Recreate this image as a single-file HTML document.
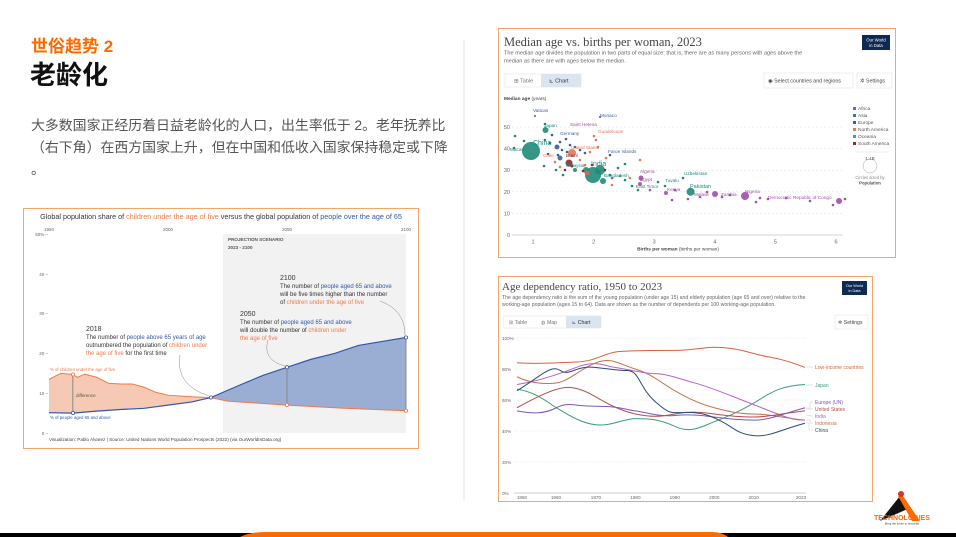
<!DOCTYPE html>
<html><head><meta charset="utf-8"><style>
html,body{margin:0;padding:0;background:#fff;}
body{width:956px;height:537px;position:relative;overflow:hidden;font-family:"Liberation Sans","Noto Sans CJK SC",sans-serif;}
.abs{position:absolute;}
</style></head><body>
<div class="abs" style="left:31px;top:32px;font-size:17px;font-weight:bold;color:#ff6a00;font-family:'Liberation Sans','Noto Sans CJK SC',sans-serif;">世俗趋势 2</div>
<div class="abs" style="left:30px;top:55px;font-size:26px;font-weight:bold;color:#111;font-family:'Liberation Sans','Noto Sans CJK SC',sans-serif;">老龄化</div>
<div class="abs" style="left:31px;top:114px;width:430px;font-size:13.9px;line-height:22px;color:#555;font-family:'Liberation Sans','Noto Sans CJK SC',sans-serif;">大多数国家正经历着日益老龄化的人口，出生率低于 2。老年抚养比（右下角）在西方国家上升，但在中国和低收入国家保持稳定或下降<br>。</div>
<svg class="abs" style="left:0;top:0" width="956" height="537" viewBox="0 0 956 537" font-family="Liberation Sans, sans-serif">
<line x1="464" y1="40" x2="464" y2="500" stroke="#e6e6e6" stroke-width="1"/>
<!-- bottom bar -->
<rect x="0" y="533" width="956" height="4" fill="#000"/>
<path d="M240 537 Q250 532 265 532 L712 532 Q722 532 728 537 Z" fill="#ff6a00"/>
<!-- logo -->
<polygon points="880,521 900,496 910,508" fill="#111"/>
<polygon points="898,496 903,496 920,521 912,521" fill="#ff6a00"/>
<circle cx="901" cy="494" r="3" fill="#e03020"/>
<text x="902" y="520" font-size="7" font-weight="bold" fill="#ff6a00" text-anchor="middle">TECHNOLOGIES</text>
<text x="902" y="524.5" font-size="2.8" fill="#333" text-anchor="middle">Bring the future to humanity</text>

<!-- LEFT CHART -->
<rect x="23.5" y="208.5" width="395" height="240" fill="#fff" stroke="#f5a56a" stroke-width="1"/>
<text x="221" y="219" font-size="7.2" fill="#333" text-anchor="middle">Global population share of <tspan fill="#f07a4a">children under the age of five</tspan> versus the global population of <tspan fill="#3557a8">people over the age of 65</tspan></text>
<rect x="223" y="234" width="183" height="199" fill="#f2f2f2"/>
<g font-size="4.5" fill="#666">
<text x="49" y="231" text-anchor="middle">1950</text><text x="168" y="231" text-anchor="middle">2000</text><text x="287" y="231" text-anchor="middle">2050</text><text x="406" y="231" text-anchor="middle">2100</text>
<text x="48" y="236" text-anchor="end">50% –</text><text x="48" y="276" text-anchor="end">40 –</text><text x="48" y="315" text-anchor="end">30 –</text><text x="48" y="355" text-anchor="end">20 –</text><text x="48" y="395" text-anchor="end">10 –</text><text x="48" y="435" text-anchor="end">0 –</text>
</g>
<text x="228" y="241" font-size="4.6" font-weight="bold" fill="#555">PROJECTION SCENARIO</text>
<text x="228" y="249" font-size="4.6" font-weight="bold" fill="#555">2023 - 2100</text>
<g transform="translate(49,433) scale(2.38,-3.98) translate(-1950,0)">
<path d="M1950,13.5 L1955,15 L1960,14.7 L1962,14 L1965,14.8 L1970,14 L1975,12.5 L1980,12.3 L1985,12.3 L1990,11.5 L1995,10.2 L2000,9.5 L2010,9.1 L2018,8.9 L2010,7.8 L2000,7 L1990,6.2 L1980,5.9 L1970,5.5 L1960,5 L1950,5.1 Z" fill="#f6c9b5"/>
<path d="M2018,8.9 L2030,12 L2040,14.5 L2050,16.5 L2060,18.5 L2070,20 L2080,22 L2090,23 L2100,24 L2100,5.6 L2075,6.2 L2050,7 L2025,8 Z" fill="#9aaed4"/>
<path d="M1950,13.5 L1955,15 L1960,14.7 L1962,14 L1965,14.8 L1970,14 L1975,12.5 L1980,12.3 L1985,12.3 L1990,11.5 L1995,10.2 L2000,9.5 L2010,9.1 L2018,8.9 L2025,8 L2050,7 L2075,6.2 L2100,5.6" fill="none" stroke="#f07a4a" stroke-width="1" vector-effect="non-scaling-stroke"/>
<path d="M1950,5.1 L1960,5 L1970,5.5 L1980,5.9 L1990,6.2 L2000,7 L2010,7.8 L2018,8.9 L2030,12 L2040,14.5 L2050,16.5 L2060,18.5 L2070,20 L2080,22 L2090,23 L2100,24" fill="none" stroke="#3557a8" stroke-width="1.2" vector-effect="non-scaling-stroke"/>
<path d="M1960,14.7 L1960,5 M2050,16.5 L2050,7 M2100,24 L2100,5.6" stroke="#888" stroke-width="1" vector-effect="non-scaling-stroke"/>
</g>
<g fill="#fff" stroke-width="0.8">
<circle cx="73" cy="374.5" r="1.6" stroke="#f07a4a"/><circle cx="73" cy="413" r="1.6" stroke="#3557a8"/>
<circle cx="211" cy="397.5" r="1.6" stroke="#3557a8"/><circle cx="287" cy="367.3" r="1.6" stroke="#3557a8"/>
<circle cx="287" cy="405" r="1.6" stroke="#f07a4a"/><circle cx="406" cy="337.5" r="1.6" stroke="#3557a8"/><circle cx="406" cy="410.7" r="1.6" stroke="#f07a4a"/>
</g>
<text x="76" y="397" font-size="4.5" fill="#555">difference</text>
<text x="50" y="371" font-size="4.3" fill="#f07a4a">% of children under the age of five</text>
<text x="50" y="419" font-size="4.3" fill="#3557a8">% of people aged 65 and above</text>
<path d="M180 355 Q175 385 209 396" fill="none" stroke="#888" stroke-width="0.5"/>
<path d="M268 340 Q262 360 285 366" fill="none" stroke="#888" stroke-width="0.5"/>
<path d="M380 301 Q405 310 405 335" fill="none" stroke="#888" stroke-width="0.5"/>
<g font-size="6" fill="#333">
<text x="86" y="331" font-size="7">2018</text>
<text x="86" y="339">The number of <tspan fill="#3557a8">people above 65 years of age</tspan></text>
<text x="86" y="347">outnumbered the population of <tspan fill="#f07a4a">children under</tspan></text>
<text x="86" y="355"><tspan fill="#f07a4a">the age of five</tspan> for the first time</text>
<text x="240" y="316" font-size="7">2050</text>
<text x="240" y="324">The number of <tspan fill="#3557a8">people aged 65 and above</tspan></text>
<text x="240" y="332">will double the number of <tspan fill="#f07a4a">children under</tspan></text>
<text x="240" y="340" fill="#f07a4a">the age of five</text>
<text x="280" y="280" font-size="7">2100</text>
<text x="280" y="288">The number of <tspan fill="#3557a8">people aged 65 and above</tspan></text>
<text x="280" y="296">will be five times higher than the number</text>
<text x="280" y="304">of <tspan fill="#f07a4a">children under the age of five</tspan></text>
</g>
<text x="49" y="441" font-size="4.6" fill="#444">Visualization: Pablo Alvarez | Source: United Nations World Population Prospects (2022) (via OurWorldInData.org)</text>

<!-- SCATTER -->
<rect x="498.5" y="28.5" width="397" height="229" fill="#fff" stroke="#f5a56a" stroke-width="1"/>
<text x="504" y="46" font-size="12.5" font-family="Liberation Serif, serif" fill="#444">Median age vs. births per woman, 2023</text>
<text x="504" y="54.5" font-size="5.6" fill="#666">The median age divides the population in two parts of equal size: that is, there are as many persons with ages above the</text>
<text x="504" y="62.5" font-size="5.6" fill="#666">median as there are with ages below the median.</text>
<rect x="862" y="35" width="28" height="15" fill="#0f2a52"/>
<text x="876" y="41.5" font-size="4.3" fill="#fff" text-anchor="middle">Our World</text><text x="876" y="47" font-size="4.3" fill="#fff" text-anchor="middle">in Data</text>
<rect x="505" y="74" width="76" height="13" fill="#fff" stroke="#e4e4e4" stroke-width="0.6"/>
<rect x="541" y="74" width="40" height="13" fill="#dbe5f0"/>
<text x="514" y="82.5" font-size="5.5" fill="#777">⊞ Table</text><text x="549" y="82.5" font-size="5.5" fill="#333">⊾ Chart</text>
<rect x="764" y="73" width="89" height="15" fill="#fff" stroke="#e4e4e4" stroke-width="0.6"/>
<text x="768" y="82.5" font-size="5.3" fill="#444">◉ Select countries and regions</text>
<rect x="857" y="73" width="35" height="15" fill="#fff" stroke="#e4e4e4" stroke-width="0.6"/>
<text x="860" y="82.5" font-size="5.3" fill="#444">✲ Settings</text>
<text x="504" y="100" font-size="4.8" fill="#444"><tspan font-weight="bold">Median age</tspan> (years)</text>
<g stroke="#ddd" stroke-width="0.5" stroke-dasharray="2,2">
<line x1="512" y1="127" x2="843" y2="127"/><line x1="512" y1="148.6" x2="843" y2="148.6"/><line x1="512" y1="170.2" x2="843" y2="170.2"/><line x1="512" y1="191.8" x2="843" y2="191.8"/><line x1="512" y1="213.4" x2="843" y2="213.4"/>
</g>
<line x1="512" y1="235" x2="843" y2="235" stroke="#aaa" stroke-width="0.5"/>
<g font-size="5.5" fill="#666" text-anchor="end">
<text x="510" y="237">0</text><text x="510" y="215.4">10</text><text x="510" y="193.8">20</text><text x="510" y="172.2">30</text><text x="510" y="150.6">40</text><text x="510" y="129">50</text>
</g>
<g font-size="5.5" fill="#666" text-anchor="middle">
<text x="533" y="243.5">1</text><text x="593.6" y="243.5">2</text><text x="654.2" y="243.5">3</text><text x="714.8" y="243.5">4</text><text x="775.4" y="243.5">5</text><text x="836" y="243.5">6</text>
</g>
<text x="678" y="250.5" font-size="4.8" fill="#444" text-anchor="middle"><tspan font-weight="bold">Births per woman</tspan> (births per woman)</text>
<g fill-opacity="0.9">
<circle cx="531" cy="151" r="9" fill="#1f8a7a"/>
<circle cx="593" cy="175" r="8" fill="#1f8a7a"/>
<circle cx="600" cy="170" r="5" fill="#1f8a7a"/>
<circle cx="586" cy="170" r="3" fill="#1f8a7a"/>
<circle cx="545.5" cy="130" r="3" fill="#1f8a7a"/>
<circle cx="690.6" cy="191.8" r="4" fill="#1f8a7a"/>
<circle cx="603" cy="181" r="3" fill="#1f8a7a"/>
<circle cx="745" cy="196" r="4" fill="#a04fa8"/>
<circle cx="715" cy="194" r="3" fill="#a04fa8"/>
<circle cx="839" cy="201" r="3" fill="#a04fa8"/>
<circle cx="641" cy="178" r="2.5" fill="#a04fa8"/>
<circle cx="640" cy="184" r="2" fill="#a04fa8"/>
<circle cx="666" cy="193" r="2" fill="#a04fa8"/>
<circle cx="572" cy="153" r="4" fill="#e07a5a"/>
<circle cx="569" cy="163" r="3.5" fill="#8a2a33"/>
<circle cx="557" cy="147" r="2.5" fill="#3f5f9a"/>
<circle cx="560" cy="158" r="2.5" fill="#3f5f9a"/>
<circle cx="587" cy="173" r="2.5" fill="#d9684f"/>
<circle cx="575" cy="170" r="2" fill="#1f8a7a"/>
</g>
<g fill="#a04fa8">
<circle cx="700" cy="197" r="1.3"/><circle cx="707" cy="192" r="1.3"/><circle cx="722" cy="197" r="1.3"/><circle cx="730" cy="195" r="1.3"/><circle cx="760" cy="198" r="1.3"/><circle cx="768" cy="199" r="1.3"/><circle cx="786" cy="198" r="1.3"/><circle cx="810" cy="201" r="1.3"/><circle cx="833" cy="205" r="1.3"/><circle cx="845" cy="199" r="1.3"/><circle cx="688" cy="199" r="1.3"/><circle cx="675" cy="190" r="1.3"/><circle cx="650" cy="190" r="1.3"/><circle cx="612" cy="178" r="1.3"/><circle cx="756" cy="202" r="1.3"/><circle cx="672" cy="200" r="1.3"/>
</g>
<g fill="#1f8a7a">
<circle cx="515" cy="136" r="1.3"/><circle cx="524" cy="141" r="1.3"/><circle cx="514" cy="148" r="1.3"/><circle cx="545" cy="140" r="1.3"/><circle cx="544" cy="166" r="1.3"/><circle cx="556" cy="170" r="1.3"/><circle cx="563" cy="175" r="1.3"/><circle cx="610" cy="175" r="1.3"/><circle cx="625" cy="180" r="1.3"/><circle cx="632" cy="186" r="1.3"/><circle cx="638" cy="190" r="1.3"/><circle cx="658" cy="182" r="1.3"/><circle cx="665" cy="186" r="1.3"/><circle cx="683" cy="178" r="1.3"/><circle cx="618" cy="168" r="1.3"/><circle cx="625" cy="164" r="1.3"/><circle cx="545" cy="124" r="1.3"/>
</g>
<g fill="#3f5f9a">
<circle cx="535" cy="116" r="1"/><circle cx="600" cy="117" r="1"/><circle cx="552" cy="135" r="1.3"/><circle cx="560" cy="142" r="1.3"/><circle cx="566" cy="139" r="1.3"/><circle cx="570" cy="145" r="1.3"/><circle cx="575" cy="147" r="1.3"/><circle cx="580" cy="150" r="1.3"/><circle cx="562" cy="150" r="1.3"/><circle cx="567" cy="152" r="1.3"/><circle cx="585" cy="153" r="1.3"/><circle cx="550" cy="143" r="1.3"/><circle cx="610" cy="155" r="1.3"/><circle cx="548" cy="154" r="1.3"/><circle cx="558" cy="155" r="1.3"/>
</g>
<g fill="#e07a5a">
<circle cx="594" cy="136" r="1.3"/><circle cx="596" cy="140" r="1.3"/><circle cx="598" cy="147" r="1.3"/><circle cx="590" cy="152" r="1.3"/><circle cx="580" cy="160" r="1.3"/><circle cx="585" cy="165" r="1.3"/><circle cx="606" cy="158" r="1.3"/><circle cx="620" cy="176" r="1.3"/><circle cx="630" cy="178" r="1.3"/><circle cx="612" cy="185" r="1.3"/><circle cx="640" cy="160" r="1.3"/><circle cx="555" cy="162" r="1.3"/><circle cx="560" cy="167" r="1.3"/>
</g>
<g fill="#8a2a33"><circle cx="572" cy="166" r="1.5"/><circle cx="583" cy="171" r="1.3"/><circle cx="565" cy="170" r="1.3"/><circle cx="592" cy="165" r="1.3"/><circle cx="605" cy="170" r="1.3"/></g>
<g font-size="4.7">
<text x="533" y="112" fill="#3f5f9a">Vatican</text>
<text x="600" y="117" fill="#3f5f9a">Monaco</text>
<text x="544" y="127" fill="#1f8a7a">Japan</text>
<text x="570" y="126" fill="#a04fa8">Saint Helena</text>
<text x="598" y="133" fill="#e07a5a">Guadeloupe</text>
<text x="560" y="135" fill="#3f5f9a">Germany</text>
<text x="533" y="145" font-size="7" fill="#1f8a7a">China</text>
<text x="510" y="151" fill="#1f8a7a">Macao</text>
<text x="571" y="149" fill="#e07a5a">United States</text>
<text x="608" y="153" fill="#3f5f9a">Faroe Islands</text>
<text x="543" y="157" fill="#e07a5a">Chile</text>
<text x="566" y="157" fill="#8a2a33">Brazil</text>
<text x="566" y="167" fill="#1f8a7a">Malaysia</text>
<text x="591" y="166" font-size="7" fill="#1f8a7a">India</text>
<text x="604" y="177" fill="#1f8a7a">Bangladesh</text>
<text x="640" y="173" fill="#a04fa8">Algeria</text>
<text x="640" y="181" fill="#a04fa8">Egypt</text>
<text x="665" y="182" fill="#1f8a7a">Tuvalu</text>
<text x="684" y="175" fill="#1f8a7a">Uzbekistan</text>
<text x="636" y="188" fill="#1f8a7a">East Timor</text>
<text x="667" y="191" fill="#a04fa8">Kenya</text>
<text x="690" y="188" font-size="5.5" fill="#1f8a7a">Pakistan</text>
<text x="694" y="196" fill="#a04fa8">Malawi</text>
<text x="721" y="196" fill="#a04fa8">Zambia</text>
<text x="745" y="193" fill="#a04fa8">Nigeria</text>
<text x="768" y="199" fill="#a04fa8">Democratic Republic of Congo</text>
</g>
<g font-size="4.8" fill="#555">
<rect x="853" y="107" width="3" height="3" fill="#a04fa8"/><text x="858" y="110">Africa</text>
<rect x="853" y="114" width="3" height="3" fill="#1f8a7a"/><text x="858" y="117">Asia</text>
<rect x="853" y="121" width="3" height="3" fill="#3f5f9a"/><text x="858" y="124">Europe</text>
<rect x="853" y="128" width="3" height="3" fill="#e07a5a"/><text x="858" y="131">North America</text>
<rect x="853" y="135" width="3" height="3" fill="#38a7b5"/><text x="858" y="138">Oceania</text>
<rect x="853" y="142" width="3" height="3" fill="#8a2a33"/><text x="858" y="145">South America</text>
</g>
<line x1="855" y1="152" x2="888" y2="152" stroke="#ddd" stroke-width="0.5"/>
<circle cx="870" cy="166" r="7" fill="none" stroke="#aaa" stroke-width="0.5"/>
<text x="870" y="160" font-size="4.5" fill="#555" text-anchor="middle">1.4B</text>
<text x="870" y="179" font-size="4.2" fill="#888" text-anchor="middle">Circles sized by</text>
<text x="870" y="184.5" font-size="4.2" font-weight="bold" fill="#555" text-anchor="middle">Population</text>

<!-- LINE CHART -->
<rect x="498.5" y="276.5" width="374" height="225" fill="#fff" stroke="#f5a56a" stroke-width="1"/>
<text x="502" y="290" font-size="11" font-family="Liberation Serif, serif" fill="#444">Age dependency ratio, 1950 to 2023</text>
<text x="502" y="299" font-size="5.2" fill="#666">The age dependency ratio is the sum of the young population (under age 15) and elderly population (age 65 and over) relative to the</text>
<text x="502" y="306" font-size="5.2" fill="#666">working-age population (ages 15 to 64). Data are shown as the number of dependents per 100 working-age population.</text>
<rect x="842" y="281" width="25" height="14" fill="#0f2a52"/>
<text x="854.5" y="287" font-size="3.8" fill="#fff" text-anchor="middle">Our World</text><text x="854.5" y="292" font-size="3.8" fill="#fff" text-anchor="middle">in Data</text>
<rect x="503" y="316" width="98" height="12" fill="#fff" stroke="#e4e4e4" stroke-width="0.6"/>
<rect x="566" y="316" width="35" height="12" fill="#dbe5f0"/>
<text x="509" y="324" font-size="5.2" fill="#777">⊞ Table</text><text x="541" y="324" font-size="5.2" fill="#777">◍ Map</text><text x="572" y="324" font-size="5.2" fill="#333">⊾ Chart</text>
<rect x="835" y="315" width="33" height="14" fill="#fff" stroke="#e4e4e4" stroke-width="0.6"/>
<text x="838" y="324" font-size="5.2" fill="#444">✲ Settings</text>
<g stroke="#ddd" stroke-width="0.5" stroke-dasharray="1.5,1.5">
<line x1="514" y1="338" x2="806" y2="338"/><line x1="514" y1="369" x2="806" y2="369"/><line x1="514" y1="400" x2="806" y2="400"/><line x1="514" y1="431" x2="806" y2="431"/><line x1="514" y1="462" x2="806" y2="462"/>
</g>
<line x1="514" y1="493" x2="806" y2="493" stroke="#999" stroke-width="0.5"/>
<g font-size="4.6" fill="#666">
<text x="502" y="340">100%</text><text x="502" y="371">80%</text><text x="502" y="402">60%</text><text x="502" y="433">40%</text><text x="502" y="464">20%</text><text x="502" y="495">0%</text>
</g>
<g font-size="4.6" fill="#666" text-anchor="middle">
<text x="522" y="499">1950</text><text x="556" y="499">1960</text><text x="595.9" y="499">1970</text><text x="635.4" y="499">1980</text><text x="674.8" y="499">1990</text><text x="714.3" y="499">2000</text><text x="753.7" y="499">2010</text><text x="801" y="499">2023</text>
</g>
<g transform="translate(517,493) scale(3.945,-1.55) translate(-1950,0)" fill="none" stroke-width="1" stroke-linejoin="round">
<path vector-effect="non-scaling-stroke" stroke="#d9623b" d="M1950,84 C1955,83 1960,84 1965,84.5 S1972,90 1975,91 S1985,92 1990,92 S1997,94 2000,94 S2006,93 2010,90 S2016,88 2023,81"/>
<path vector-effect="non-scaling-stroke" stroke="#3a9e7d" d="M1950,67 C1955,65 1958,58 1960,55 S1966,45 1970,44 S1977,48 1980,48 S1986,48 1990,43 S1997,43 2000,46 S2006,52 2010,58 S2016,69 2023,70"/>
<path vector-effect="non-scaling-stroke" stroke="#c6714f" d="M1950,75 C1953,71 1957,70 1960,71 S1966,80 1970,84 S1976,83 1980,80 S1986,72 1990,66 S1997,57 2000,55 S2006,51 2010,51 S2016,49 2023,47"/>
<path vector-effect="non-scaling-stroke" stroke="#b563c8" d="M1950,70 C1955,72 1960,76 1965,81 S1972,82 1975,81 S1982,77 1985,77 S1992,73 1995,71 S2002,65 2005,62 S2012,55 2015,52 S2020,47 2023,47"/>
<path vector-effect="non-scaling-stroke" stroke="#b34e4e" d="M1950,55 C1955,62 1959,67 1962,68 S1968,65 1970,62 S1976,53 1980,51 S1986,49 1990,51 S1997,52 2000,51 S2006,49 2010,49 S2016,51 2023,53"/>
<path vector-effect="non-scaling-stroke" stroke="#7e58b8" d="M1950,53 C1954,51 1957,51 1960,55 S1964,56 1970,56 S1977,54 1980,53 S1986,49 1990,50 S1997,50 2000,49 S2006,47 2010,47 S2016,50 2023,55"/>
<path vector-effect="non-scaling-stroke" stroke="#2e4a7a" d="M1950,66 C1954,72 1957,79 1959,80 S1961,77 1963,78 S1966,82 1970,81 S1975,79 1978,79 S1981,68 1985,59 S1989,52 1993,52 S1999,50 2002,46 S2006,38 2010,37 S2017,41 2023,45"/>
</g>
<g stroke="#ccc" stroke-width="0.5" fill="none">
<path d="M806,367 L813,367"/><path d="M806,385 L813,385"/>
<path d="M806,408 L810,408 L810,402 L813,402"/><path d="M806,409 L813,409"/>
<path d="M806,415.5 L810,415.5 L810,416 L813,416"/><path d="M806,420 L810,420 L810,423 L813,423"/><path d="M806,423 L809,423 L809,430 L813,430"/>
</g>
<g font-size="5" >
<text x="815" y="369" fill="#d9623b">Low-income countries</text>
<text x="815" y="387" fill="#3a9e7d">Japan</text>
<text x="815" y="404" fill="#7e58b8">Europe (UN)</text>
<text x="815" y="411" fill="#b34e4e">United States</text>
<text x="815" y="418" fill="#b563c8">India</text>
<text x="815" y="425" fill="#c6714f">Indonesia</text>
<text x="815" y="432" fill="#2e4a7a">China</text>
</g>
</svg>
</body></html>
